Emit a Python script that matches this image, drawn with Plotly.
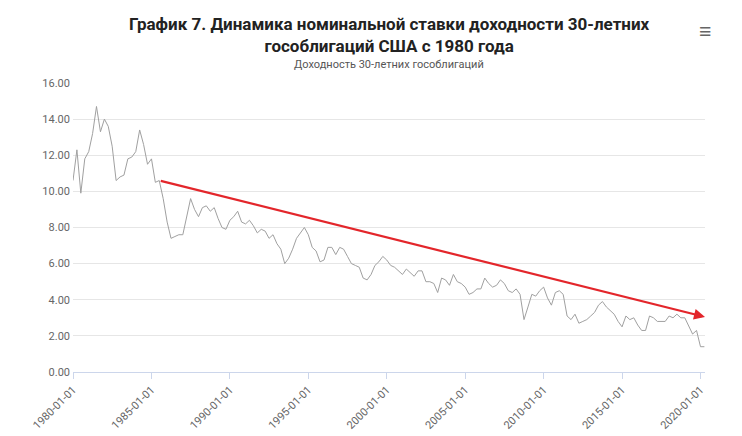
import pandas as pd
import plotly.graph_objects as go

# quarterly 30-year US treasury yield
yields = [
    10.6, 12.3, 9.9, 11.8, 12.2, 13.2, 14.7, 13.3, 14.0, 13.6, 12.5, 10.6,
    10.8, 10.9, 11.8, 11.9, 12.2, 13.4, 12.6, 11.5, 11.8, 10.5, 10.6, 9.6,
    8.3, 7.4, 7.5, 7.6, 7.6, 8.6, 9.6, 9.0, 8.6, 9.1, 9.2, 8.9,
    9.1, 8.5, 8.0, 7.9, 8.4, 8.6, 8.9, 8.3, 8.2, 8.4, 8.1, 7.7,
    7.9, 7.8, 7.4, 7.6, 7.1, 6.8, 6.0, 6.3, 6.8, 7.4, 7.7, 8.0,
    7.6, 6.9, 6.7, 6.1, 6.2, 6.9, 6.9, 6.5, 6.9, 6.8, 6.4, 6.0,
    5.9, 5.8, 5.2, 5.1, 5.4, 5.9, 6.1, 6.4, 6.2, 5.9, 5.8, 5.6,
    5.4, 5.7, 5.5, 5.3, 5.6, 5.6, 5.0, 5.0, 4.9, 4.4, 5.2, 5.1,
    4.8, 5.4, 5.0, 4.9, 4.7, 4.3, 4.4, 4.6, 4.6, 5.2, 4.9, 4.7,
    4.8, 5.1, 4.9, 4.5, 4.4, 4.6, 4.3, 2.9, 3.6, 4.3, 4.2, 4.5,
    4.7, 4.1, 3.7, 4.4, 4.5, 4.3, 3.1, 2.9, 3.2, 2.7, 2.8, 2.9,
    3.1, 3.3, 3.7, 3.9, 3.6, 3.4, 3.2, 2.8, 2.5, 3.1, 2.9, 3.0,
    2.6, 2.3, 2.3, 3.1, 3.0, 2.8, 2.8, 2.8, 3.1, 3.0, 3.2, 3.0,
    3.0, 2.5, 2.1, 2.3, 1.4, 1.4,
]
dates = pd.date_range("1980-01-01", periods=len(yields), freq="QS")

tick_vals = pd.date_range("1980-01-01", "2020-01-01", freq="5YS")
tick_text = [d.strftime("%Y-%m-%d") for d in tick_vals]

# trend arrow endpoints
trend_start = ("1985-07-01", 10.6)
trend_end = ("2020-04-15", 3.05)

fig = go.Figure(go.Scatter(x=dates, y=yields, mode="lines",
                           line=dict(color="#a0a0a0", width=1), hoverinfo="x+y"))

fig.add_annotation(x=trend_end[0], y=trend_end[1], ax=trend_start[0], ay=trend_start[1],
                   xref="x", yref="y", axref="x", ayref="y", showarrow=True,
                   arrowhead=2, arrowsize=1, arrowwidth=2.2, arrowcolor="#e3262b", text="")

fig.add_annotation(text="<b>График 7. Динамика номинальной ставки доходности 30-летних<br>гособлигаций США с 1980 года</b>",
                   xref="paper", yref="paper", x=0.5, y=1.245, showarrow=False,
                   font=dict(family="Roboto", size=17, color="#222"), xanchor="center", yanchor="top")
fig.add_annotation(text="<b>≡</b>", xref="paper", yref="paper", x=1.0, y=1.23, showarrow=False,
                   font=dict(size=22, color="#666"), xanchor="center", yanchor="top")
fig.add_annotation(text="Доходность 30-летних гособлигаций", xref="paper", yref="paper",
                   x=0.5, y=1.035, showarrow=False, font=dict(size=11, color="#555"),
                   xanchor="center", yanchor="bottom")

fig.update_layout(
    width=742, height=436, margin=dict(l=65, r=45, t=75, b=65),
    plot_bgcolor="white", paper_bgcolor="white", showlegend=False,
    font=dict(family="Roboto", color="#666"),
)
fig.update_xaxes(range=["1980-01-01", "2020-04-15"], tickvals=tick_vals, ticktext=tick_text,
                 tickangle=-45, tickfont=dict(size=11), showgrid=False, showline=True,
                 linecolor="#ccd6eb", ticks="outside", tickcolor="#ccd6eb", ticklen=6)
fig.update_yaxes(range=[0, 16], dtick=2, tickformat=".2f", gridcolor="#e6e6e6",
                 zeroline=False, tickfont=dict(size=11), ticks="", ticklabelstandoff=2)

fig.write_html("out.html")
